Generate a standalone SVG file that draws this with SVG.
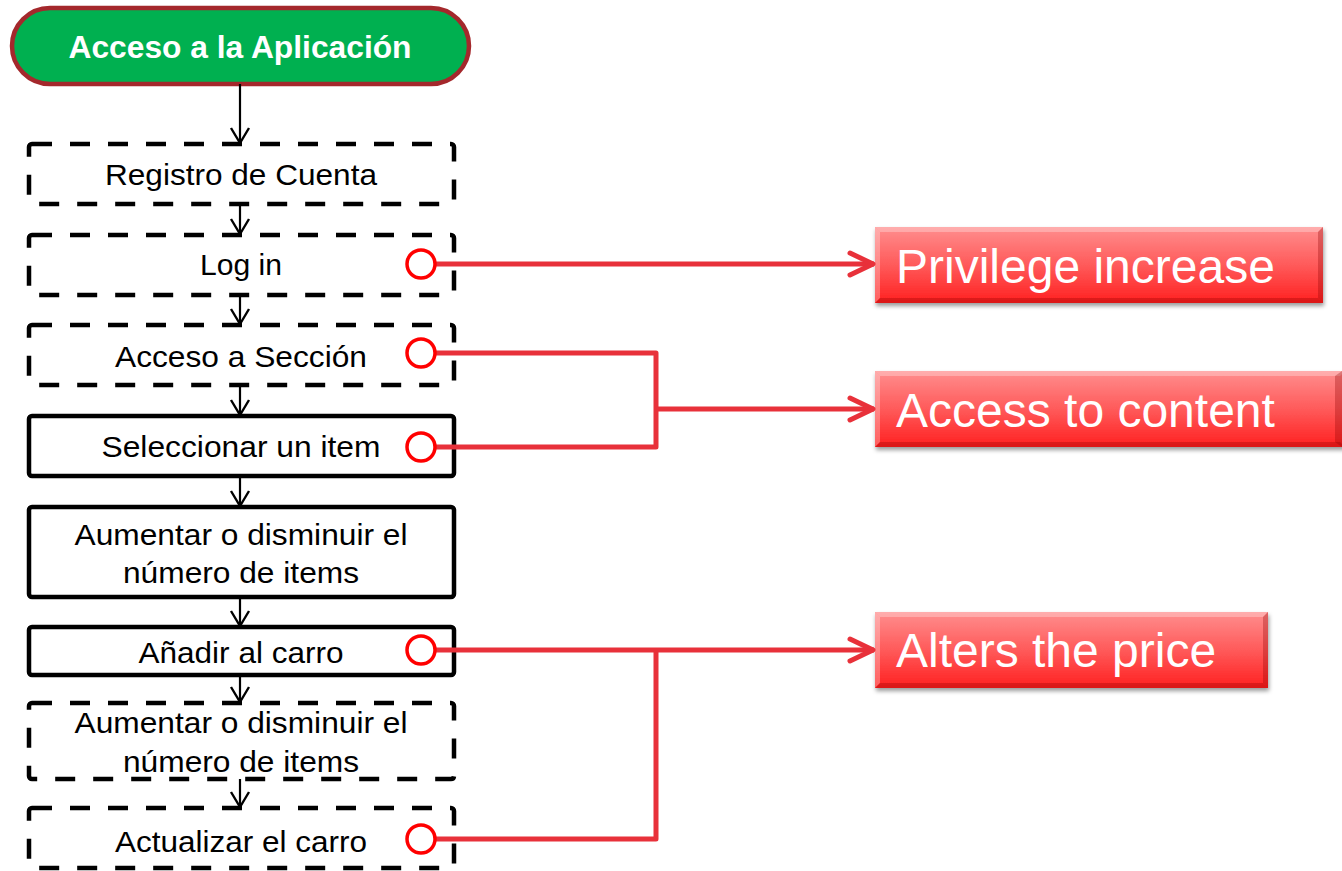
<svg xmlns="http://www.w3.org/2000/svg" width="1342" height="871" viewBox="0 0 1342 871">
<style>
.box{fill:#fff;stroke:#000;stroke-width:4.5}
.dash{stroke-dasharray:20 18}
.t{font-family:"Liberation Sans",Arial,sans-serif;font-size:30px;fill:#000;text-anchor:middle}
.rt{font-family:"Liberation Sans",Arial,sans-serif;font-size:48px;fill:#fff}
.blk{stroke:#000;stroke-width:2.2;fill:none}
.red{stroke:#e8313a;stroke-width:5;fill:none;stroke-linejoin:round}
.port{fill:#fff;stroke:#ff0000;stroke-width:3.5}
.hi{fill:#fff;opacity:.28}
.lo{fill:#8a0000;opacity:.3}
</style>
<defs>
<linearGradient id="rg" x1="0" y1="0" x2="0" y2="1">
<stop offset="0" stop-color="#ff8e8e"/>
<stop offset="0.5" stop-color="#ff5a5a"/>
<stop offset="1" stop-color="#ff2020"/>
</linearGradient>
<filter id="sh" x="-5%" y="-10%" width="112%" height="130%">
<feDropShadow dx="1" dy="3" stdDeviation="2" flood-color="#000" flood-opacity="0.4"/>
</filter>
<marker id="ah" viewBox="-17 -11 19 22" refX="0" refY="0" markerWidth="19" markerHeight="22" markerUnits="userSpaceOnUse" orient="auto">
<path d="M-15,-9 L0,0 L-15,9" fill="none" stroke="#000" stroke-width="2.4"/>
</marker>
<marker id="rah" viewBox="-28 -14 30 28" refX="0" refY="0" markerWidth="30" markerHeight="28" markerUnits="userSpaceOnUse" orient="auto">
<path d="M-24,-11 L-1,0 L-24,11" fill="none" stroke="#e8313a" stroke-width="5" stroke-linecap="round" stroke-linejoin="round"/>
</marker>
</defs>

<g id="start">
<rect x="12" y="8" width="457" height="76" rx="38" ry="38" fill="#00b050" stroke="#a4282c" stroke-width="4.5"/>
<text x="240" y="58" font-family="Liberation Sans,Arial,sans-serif" font-size="31" font-weight="bold" fill="#fff" text-anchor="middle" textLength="343" lengthAdjust="spacingAndGlyphs">Acceso a la Aplicación</text>
</g>

<g id="registro">
<rect class="box dash" x="29" y="144" width="425" height="60" rx="3"/>
<text class="t" x="241" y="185" textLength="272" lengthAdjust="spacingAndGlyphs">Registro de Cuenta</text>
</g>

<g id="login">
<rect class="box dash" x="29" y="235" width="425" height="60" rx="3"/>
<text class="t" x="241" y="275" textLength="82" lengthAdjust="spacingAndGlyphs">Log in</text>
</g>

<g id="seccion">
<rect class="box dash" x="29" y="325" width="425" height="60" rx="3"/>
<text class="t" x="241" y="367" textLength="252" lengthAdjust="spacingAndGlyphs">Acceso a Sección</text>
</g>

<g id="seleccionar">
<rect class="box" x="29" y="416" width="425" height="60" rx="3"/>
<text class="t" x="241" y="457" textLength="279" lengthAdjust="spacingAndGlyphs">Seleccionar un item</text>
</g>

<g id="aumentar1">
<rect class="box" x="29" y="507" width="425" height="90" rx="3"/>
<text class="t" x="241" y="545" textLength="333" lengthAdjust="spacingAndGlyphs">Aumentar o disminuir el</text>
<text class="t" x="241" y="583" textLength="236" lengthAdjust="spacingAndGlyphs">número de items</text>
</g>

<g id="anadir">
<rect class="box" x="29" y="627" width="425" height="48" rx="3"/>
<text class="t" x="241" y="663" textLength="205" lengthAdjust="spacingAndGlyphs">Añadir al carro</text>
</g>

<g id="aumentar2">
<rect class="box dash" x="29" y="703" width="425" height="76" rx="3"/>
<text class="t" x="241" y="733" textLength="333" lengthAdjust="spacingAndGlyphs">Aumentar o disminuir el</text>
<text class="t" x="241" y="772" textLength="236" lengthAdjust="spacingAndGlyphs">número de items</text>
</g>

<g id="actualizar">
<rect class="box dash" x="29" y="808" width="425" height="60" rx="3"/>
<text class="t" x="241" y="852" textLength="252" lengthAdjust="spacingAndGlyphs">Actualizar el carro</text>
</g>

<g id="privilege">
<g filter="url(#sh)"><rect x="875" y="227" width="448" height="76" fill="url(#rg)"/></g>
<polygon class="hi" points="875,227 1323,227 1318,232 880,232"/>
<polygon class="hi" points="875,227 880,232 880,298 875,303" opacity=".15"/>
<polygon class="lo" points="875,303 1323,303 1318,298 880,298"/>
<polygon class="lo" points="1323,227 1323,303 1318,298 1318,232"/>
<text class="rt" x="896" y="283">Privilege increase</text>
</g>

<g id="access">
<g filter="url(#sh)"><rect x="875" y="371" width="470" height="76" fill="url(#rg)"/></g>
<polygon class="hi" points="875,371 1345,371 1340,376 880,376"/>
<polygon class="hi" points="875,371 880,376 880,442 875,447" opacity=".15"/>
<polygon class="lo" points="875,447 1345,447 1340,442 880,442"/>
<polygon class="lo" points="1342,371 1342,447 1335,442 1335,376"/>
<text class="rt" x="896" y="427">Access to content</text>
</g>

<g id="price">
<g filter="url(#sh)"><rect x="875" y="612" width="393" height="76" fill="url(#rg)"/></g>
<polygon class="hi" points="875,612 1268,612 1263,617 880,617"/>
<polygon class="hi" points="875,612 880,617 880,683 875,688" opacity=".15"/>
<polygon class="lo" points="875,688 1268,688 1263,683 880,683"/>
<polygon class="lo" points="1268,612 1268,688 1263,683 1263,617"/>
<text class="rt" x="896" y="667">Alters the price</text>
</g>

<g id="connectors">
<line class="blk" x1="240" y1="84" x2="240" y2="143" marker-end="url(#ah)"/>
<line class="blk" x1="240" y1="204" x2="240" y2="234" marker-end="url(#ah)"/>
<line class="blk" x1="240" y1="295" x2="240" y2="324" marker-end="url(#ah)"/>
<line class="blk" x1="240" y1="385" x2="240" y2="415" marker-end="url(#ah)"/>
<line class="blk" x1="240" y1="476" x2="240" y2="506" marker-end="url(#ah)"/>
<line class="blk" x1="240" y1="597" x2="240" y2="626" marker-end="url(#ah)"/>
<line class="blk" x1="240" y1="675" x2="240" y2="702" marker-end="url(#ah)"/>
<line class="blk" x1="240" y1="779" x2="240" y2="807" marker-end="url(#ah)"/>

<polyline class="red" points="436,264 874,264" marker-end="url(#rah)"/>
<polyline class="red" points="436,353 656,353 656,447 436,447"/>
<polyline class="red" points="656,409 874,409" marker-end="url(#rah)"/>
<polyline class="red" points="436,650 874,650" marker-end="url(#rah)"/>
<polyline class="red" points="656,650 656,839 436,839"/>
</g>

<g id="ports">
<circle class="port" cx="421" cy="264" r="14"/>
<circle class="port" cx="421" cy="353" r="14"/>
<circle class="port" cx="421" cy="447" r="14"/>
<circle class="port" cx="421" cy="650" r="14"/>
<circle class="port" cx="421" cy="839" r="14"/>
</g>
</svg>
